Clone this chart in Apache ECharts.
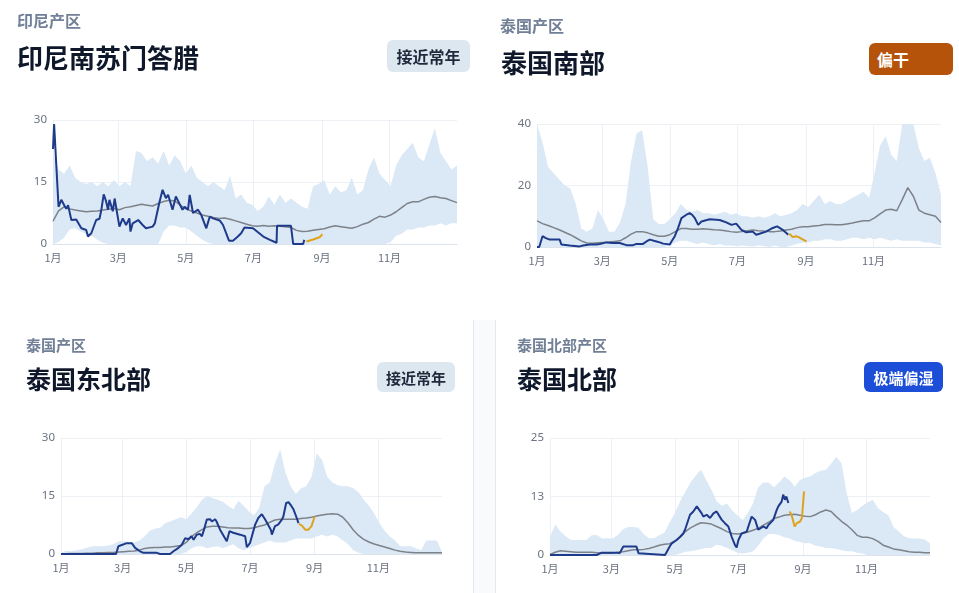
<!DOCTYPE html>
<html>
<head>
<meta charset="utf-8">
<script src="https://cdn.jsdelivr.net/npm/echarts@6/dist/echarts.min.js"></script>
<style>
html,body{margin:0;padding:0;background:#fff;width:959px;height:593px;overflow:hidden;font-family:"Noto Sans CJK SC","Noto Sans",sans-serif;}
#chart{position:absolute;left:0;top:0;width:959px;height:593px;}
.t{position:absolute;white-space:nowrap;line-height:1;}
.sub{font-size:15px;font-weight:700;color:#718096;}
.ttl{font-size:25px;font-weight:700;color:#0f172a;}
.badge{position:absolute;box-sizing:border-box;border-radius:6px;font-size:16px;font-weight:700;display:flex;align-items:center;white-space:nowrap;}
.divider{position:absolute;left:473px;top:320px;width:23px;height:273px;background:#f8fafc;border-left:1px solid #e6eaf0;border-right:1px solid #e6eaf0;box-sizing:border-box;}
</style>
</head>
<body>
<div class="divider"></div>
<div id="chart"></div>

<div class="t sub" style="left:17px;top:12px;font-size:16px;">印尼产区</div>
<div class="t ttl" style="left:17px;top:44px;font-size:26px;">印尼南苏门答腊</div>
<div class="badge" style="left:387px;top:40px;width:83px;height:32px;background:#dde7ef;color:#1e293b;justify-content:center;">接近常年</div>

<div class="t sub" style="left:500px;top:17px;font-size:16px;">泰国产区</div>
<div class="t ttl" style="left:501px;top:49px;font-size:26px;">泰国南部</div>
<div class="badge" style="left:869px;top:43px;width:84px;height:32px;background:#b45309;color:#fff;padding-left:8px;">偏干</div>

<div class="t sub" style="left:26px;top:337px;">泰国产区</div>
<div class="t ttl" style="left:26px;top:366px;">泰国东北部</div>
<div class="badge" style="left:377px;top:362px;width:78px;height:30px;background:#dde7ef;color:#1e293b;justify-content:center;font-size:15px;">接近常年</div>

<div class="t sub" style="left:517px;top:337px;">泰国北部产区</div>
<div class="t ttl" style="left:517px;top:366px;">泰国北部</div>
<div class="badge" style="left:864px;top:362px;width:79px;height:30px;background:#1d4ed8;color:#fff;justify-content:center;font-size:15px;">极端偏湿</div>

<script>
// ---- shared axis data ----
const bandDays = [0,5,10,15,20,25,30,35,40,45,50,55,60,65,70,75,80,85,90,95,100,105,110,115,120,125,130,135,140,145,150,155,160,165,170,175,180,185,190,195,200,205,210,215,220,225,230,235,240,245,250,255,260,265,270,275,280,285,290,295,300,305,310,315,320,325,330,335,340,345,350,355,360,365];
const monthStarts = [0,59,120,181,243,304];
const monthLabels = ['1月','3月','5月','7月','9月','11月'];

// ---- 印尼南苏门答腊 ----
const tlUpper = [22,18,17,19,16,15,14.5,15,14,15,14,15.5,14,15,14,22.5,22,20,21,19.5,22.5,19,21.5,20,17,19,16,15,14,15,14,13,16.5,11,12,10,9.5,8,9,11.5,9.5,12,10,11,10,9,8.5,14,14.5,15.5,12,14,12.5,13,16,12,13,18,21,17,15.5,14,19,21.5,23,24.5,21,20,24,28,22,20,18,19];
const tlLower = [0,0.5,1.5,3.5,3.8,3,2.5,2,1,0.3,0,0,0,0,0,0,0,0,0,0,3,4.5,4.5,4,4,3,2,1,0.3,0,0,0,0,0,0,0,0,0,0,0,0,0,0,0,0,0,0,0,0,0,0,0,0,0,0,0,0,0,0,0,0,0.5,2,2.5,3.5,3.5,4,4,4.5,4.5,5,4.5,5,5];
const tlMean = [5.5,8,9,8.5,8.2,8,7.8,7.9,8,8.2,8.4,8.6,8.3,8.8,9,9.3,9.6,9.4,9.2,9.8,10.3,10.6,10.4,9.4,8.5,8,7.5,7,6.7,6.4,6.2,6.3,6,5.6,5.2,4.8,4.4,4.3,4.5,4.3,4.4,4.3,4.2,4,3.3,3,3.1,3.3,3.5,3.7,4.1,4.4,4.2,4,3.8,4.2,4.8,5.2,6,6.7,6.5,7,7.8,8.8,9.8,10.2,10.2,10.8,11.3,11.5,11.2,11,10.5,10];
const tlCurDays = [0,1,5,7.5,10.5,12,13.6,16.6,21,25.6,30,31.6,34.6,39,42,43.7,45.8,48,49.7,51,54,55.7,57,60,63,66,69,70,72,77,81,84,90,92,96,99,102,104,105,108,111,114,117,119,122,123.5,126.5,131,134,138.5,141.6,144.6,150.6,153.6,159,162.6,167,170,173,180.7,190,196,202,202.4,215,216,217,226,227];
const tlCurVals = [23,29,9,10.7,9.2,8.5,9.4,5.8,5.9,3.8,3.4,1.8,2.6,5.8,6.1,8.3,12,10.3,8.3,10.7,7.9,11,10.7,4.2,6.2,4.6,6.2,3,5,5.8,4.6,3.8,4.2,5,9.9,13.1,11.1,11.9,11.5,8.3,11.5,9.9,8.3,9,8.3,11.9,7.5,8.3,7,3.8,6.6,6.2,5.7,4.6,0.8,0.8,1.8,2.6,4,3.8,1.8,1,0.3,4.4,4.4,4.6,0,0,1];
const tlFcDays = [229,235,239.5,241.5,243.4];
const tlFcVals = [0.6,1.1,1.5,1.8,2.4];
const tlTicks = [0,15,30];

// ---- 泰国南部 ----
const trUpper = [40,34,26,24,22,20,19,14,6,5,6,12,9,5,5,8,14,28,37,38,26,9,7.5,7.5,9,11,14,12,11.5,12,11,11,10.5,11,11.5,10.5,11,10,10,9.5,10,9.5,10,11,10,10.5,11,12,14,13,15,17,14,15,14,14,15,16,17,18,16,24,33,36,30,28,40,40,40,32,28,29,24,17];
const trLower = [0,0,0,0,0,0,0,0,0,0,0,0,0,0,0,0,0,0,0,0,0,0,0,0,0.5,1.5,2,2,1.5,1,1.5,1,0.5,1,0.5,0.5,0.3,0.5,0.3,0.2,0.5,0.3,0,0.5,0,0,0.5,1,1.5,1.5,2,2,2.5,2.5,2,2,2.5,3,3,2.5,3,2.5,3,2.5,2,2.5,2,2,2,2,1.5,1.5,1,0.5];
const trMean = [8.5,7.6,7,6.3,5.6,4.8,4,3,2,1.3,1.2,1.4,1.5,1.6,1.8,2,3,4.2,5,5,4.6,4,3.5,3.5,4,5,6,6,5.8,5.8,5.9,5.8,5.6,5.5,5.3,5,4.8,5,5.3,5.5,5.3,5.2,5,5,5.2,5.5,5.8,6.3,6.6,6.6,6.8,7,7.3,7.3,7.2,7.2,7.5,7.8,8.2,8.5,8.5,9.5,10.8,12,12.3,11.8,15.4,19.3,16.5,12,11,10.5,10,8];
const trCurDays = [0,2,5,8,11.5,20.5,22,29.5,38.6,41.6,47.6,53.6,56.7,62.7,68.7,74.7,80.8,86.8,89.8,95.8,98.9,101.9,108,111,114,120,121.5,124.5,127.5,130.5,135,138,140,142.6,145.6,148.6,156,165,171,175.7,180,184.7,189,195,198,201,207,213,217,222,227];
const trCurVals = [0,0,3.5,2.9,2.4,2.4,0.8,0.5,0.2,0.5,0.8,0.8,1,1.5,1.3,1.3,0.6,0.6,1,1,1.8,2.4,1.8,1.5,1.1,0.8,1.8,3.5,6.2,9.4,10.5,11,10.5,9.4,7.2,8.3,9,8.8,8,7.2,7.6,5.6,4.8,5,4,4.3,5,6.2,6.7,5.6,4];
const trFcDays = [228,231,234,236.5,239.5,243.5];
const trFcVals = [4.3,3.2,3.5,3.2,2.6,1.8];
const trTicks = [0,20,40];

// ---- 泰国东北部 ----
const blUpper = [0.3,0.8,0.7,1,1.2,1.6,2,2,2,2.2,2.5,3.3,3.3,3.2,3,3.5,4.5,6,6.5,6.8,8,8.5,9,9.5,9,10.5,12,14,15,14.5,14,13.5,12.5,11.5,13.8,12.5,11,10,12,17.5,18.5,23.5,27,21,17.5,15.5,17,17.5,20,26,24.4,20,18.5,17.8,17.5,17.5,17,16,14,12.5,10.5,8,6,4.5,3.5,2,2,2,1.5,1,3.5,3.5,3.5,0.5];
const blLower = [0,0,0,0,0,0,0,0,0,0,0,0,0,0,0,0,0,0,0,0,0,0,0,0,0.5,1.5,2,2,1.5,1.8,2,1.5,2,2.5,1.5,1,1.5,2,2.5,3,3.5,3,3,3,3.5,4,4,4,4,4.5,5,4.5,5,4.5,3.5,2.5,1,0.3,0,0,0,0,0,0,0,0,0,0,0,0,0,0,0,0];
const blMean = [0,0.05,0.1,0.1,0.15,0.2,0.2,0.3,0.3,0.4,0.4,0.5,0.6,0.7,0.8,1,1.4,1.6,1.7,1.7,1.8,1.8,2,2.2,3,4.5,5.5,6.3,7,7.2,7.2,7,6.8,6.7,6.7,6.6,6.6,6.8,7.2,7.5,8.2,8.8,9,9,9,9,9.2,9.3,9.5,9.8,10.1,10.3,10.4,10.3,9.5,8,6.2,4.8,3.8,3.1,2.6,2.2,1.8,1.4,1,0.7,0.5,0.4,0.3,0.3,0.3,0.3,0.3,0.3];
const blCurDays = [0,52.7,55,63,67.8,71,75.7,79,91.7,95,104.5,107.7,112.5,115.7,119,122,125,127,130,133,135,137,139.7,143,144.5,147.7,149,152.4,158.8,159.8,161.4,165,171.6,173,176.4,178,181,186,189,192.4,195.6,197,201,202,205,208,211.6,213,215.7,218,221,222.8,225.3,227.5];
const blCurVals = [0,0,2,2.8,2.8,1.6,0.7,0.3,0.3,0,0,0.7,1.6,2.4,4.1,3.8,4.6,3.7,5,5.2,4.6,6.3,8.9,9,8.4,9,8.4,6.3,3.3,3.7,5.9,5.5,5,5.5,4.6,1.8,2.8,7.6,9.3,10.3,8.9,8.9,6.3,5,7.2,7.6,8.9,9.7,13.2,13.4,12.3,11.5,9.7,8];
const blFcDays = [228,231,234,237,240,243];
const blFcVals = [7.8,7.3,6.3,6.3,7.2,9.7];
const blTicks = [0,15,30];

// ---- 泰国北部 ----
const brUpper = [3.9,6.5,5,4,3.2,3.2,3.2,3.2,4.2,4.3,3.5,3.6,3.5,4.2,5.5,6,6,5.8,4.5,3.6,3.6,4.2,4.8,7,9,11.5,13.5,15.5,17,18.2,16,14,11.5,10.5,11,9.5,8.5,7.5,9,11,14.5,15.5,15.5,14.5,15.5,16.8,16,14.6,16,16.5,16.8,17.5,18,18.2,19.5,21,19.6,13.2,9,9.6,10.5,11.2,11.8,10,9.2,8.5,6,5,4,3.6,3.5,3.5,3.3,2.5];
const brLower = [0,0,0,0,0,0,0,0,0,0,0,0,0,0,0,0,0,0,0,0,0,0,0,0,0,0.3,0.7,0.8,1,1.3,1.5,1.5,2.2,2,1.5,1,0.5,0.3,0.5,0.8,2,3.5,4.5,4.5,4.3,3.8,3.5,3,2.8,2.5,2.5,2,1.8,1.5,1.5,1.3,1,0.8,0.8,0.5,0.3,0,0,0,0,0,0,0,0,0,0,0,0,0];
const brMean = [0.1,0.6,0.9,0.8,0.7,0.6,0.6,0.6,0.6,0.5,0.4,0.4,0.4,0.6,0.7,0.9,1.1,1.1,1.2,1.4,1.7,2.1,2.3,2.4,3,3.8,5,5.8,6.4,6.9,6.8,6.6,6.1,5.6,5,4.6,4.5,4.6,4.9,5.3,5.7,6.4,7,7.8,8.1,8.5,8.6,8.7,8.5,8.3,8.2,8.6,9.2,9.6,9.3,8.2,7.2,6.4,5.4,4.2,3.8,3.8,3.5,2.9,2.1,1.7,1.3,1.1,0.9,0.7,0.6,0.6,0.5,0.5];
const brCurDays = [0,44.8,49.6,64,67,70.4,83,85,86.5,110.5,115,117,121.7,125,128,129.7,134.5,137.7,141,142.5,145.7,147.3,150.5,153.7,157,160,161.7,165,168,171.3,174.5,177.7,179.3,181,184,189,190.5,193.7,197,200,201.7,205,208,209.7,211.3,214.5,216,217.7,219.3,222.5,224,225.7,227,229];
const brCurVals = [0,0,0.5,0.5,0.4,1.8,1.8,0.4,0,0,1.8,2.5,3.2,3.9,4.6,5.4,8.6,9.3,10.4,10,8.9,8.2,8.6,7.9,8.9,9.3,9.6,7.5,6.8,6.1,3.9,2.1,1.6,3.2,4.6,5,6.1,8.2,7.5,5.4,5,6.1,5.7,6.4,6.1,7.5,7.9,9.6,10.4,11.4,12.9,11.8,12.5,11.1];
const brFcDays = [230,232,235,237,240,242,244];
const brFcVals = [9.3,8.6,6.1,6.8,7.1,7.9,13.6];
const brTicks = [0,12.5,25];

// ---- build ----
const panels = [
  {upper:tlUpper, lower:tlLower, mean:tlMean, cd:tlCurDays, cv:tlCurVals, fd:tlFcDays, fv:tlFcVals, ticks:tlTicks, grid:{left:53, top:120, width:404, height:124}},
  {upper:trUpper, lower:trLower, mean:trMean, cd:trCurDays, cv:trCurVals, fd:trFcDays, fv:trFcVals, ticks:trTicks, grid:{left:537, top:124, width:404, height:123}},
  {upper:blUpper, lower:blLower, mean:blMean, cd:blCurDays, cv:blCurVals, fd:blFcDays, fv:blFcVals, ticks:blTicks, grid:{left:61, top:438, width:381, height:116}},
  {upper:brUpper, lower:brLower, mean:brMean, cd:brCurDays, cv:brCurVals, fd:brFcDays, fv:brFcVals, ticks:brTicks, grid:{left:550, top:438, width:380, height:117}}
];

const labelColor = '#6b7280';
const gridColor = '#edf1f6';
const grids = [], xAxes = [], yAxes = [], series = [];
const pair = (ds, vs) => ds.map((d, i) => [d, vs[i]]);

panels.forEach((p, i) => {
  grids.push(Object.assign({containLabel:false}, p.grid));
  xAxes.push({
    type:'value', gridIndex:i, min:0, max:365,
    axisLine:{show:true, lineStyle:{color:'#dde3ec', width:1}},
    axisTick:{show:false, customValues:monthStarts},
    axisLabel:{customValues:monthStarts, color:labelColor, fontSize:11, margin:8,
      fontFamily:'"Noto Sans CJK SC", sans-serif',
      formatter:(v) => { const k = monthStarts.indexOf(Math.round(v)); return k >= 0 ? monthLabels[k] : ''; }},
    splitLine:{show:true, lineStyle:{color:gridColor, width:1}}
  });
  const top = p.ticks[p.ticks.length - 1];
  yAxes.push({
    type:'value', gridIndex:i, min:0, max:top, interval:p.ticks[1] - p.ticks[0],
    axisLine:{show:false}, axisTick:{show:false},
    axisLabel:{color:labelColor, fontSize:11.5, margin:6, fontFamily:'"Noto Sans", sans-serif',
      formatter:(v) => String(Math.round(v))},
    splitLine:{show:true, lineStyle:{color:gridColor, width:1}}
  });
  // band: one polygon from upper (forward) and lower (backward), placed via the axes
  series.push({
    type:'custom', xAxisIndex:i, yAxisIndex:i, silent:true, z:1, clip:true,
    encode:{x:0, y:1},
    data:bandDays.map((d, k) => [d, p.upper[k], p.lower[k]]),
    renderItem:(params, api) => {
      if (params.dataIndex !== 0) return null;
      const pts = [];
      for (let k = 0; k < bandDays.length; k++) pts.push(api.coord([bandDays[k], p.upper[k]]));
      for (let k = bandDays.length - 1; k >= 0; k--) pts.push(api.coord([bandDays[k], p.lower[k]]));
      return {type:'polygon', shape:{points:pts}, style:{fill:'#dbe8f5'}};
    }
  });
  series.push({
    type:'line', xAxisIndex:i, yAxisIndex:i, symbol:'none', silent:true,
    data:pair(bandDays, p.mean), lineStyle:{color:'#7d8289', width:1.5}, z:2
  });
  series.push({
    type:'line', xAxisIndex:i, yAxisIndex:i, symbol:'none', silent:true,
    data:pair(p.cd, p.cv), lineStyle:{color:'#1e3a8a', width:2}, z:3
  });
  series.push({
    type:'line', xAxisIndex:i, yAxisIndex:i, symbol:'none', silent:true,
    data:pair(p.fd, p.fv), lineStyle:{color:'#dea21b', width:2}, z:4
  });
});

const chart = echarts.init(document.getElementById('chart'), null, {renderer:'canvas'});
chart.setOption({
  animation:false,
  backgroundColor:'transparent',
  grid:grids, xAxis:xAxes, yAxis:yAxes, series:series
});
</script>
</body>
</html>
